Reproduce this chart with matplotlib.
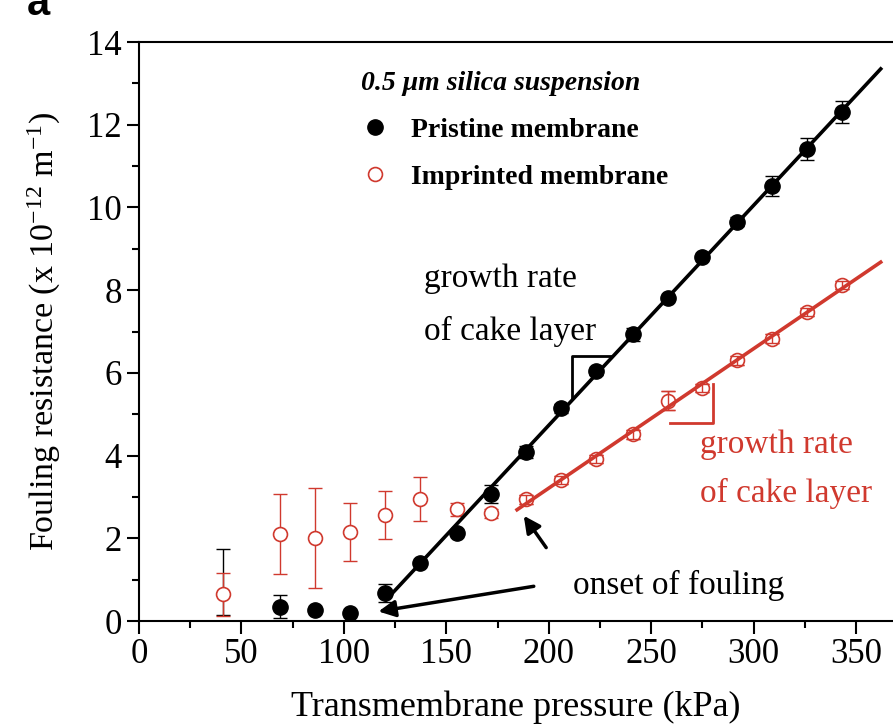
import numpy as np
import matplotlib.pyplot as plt
from matplotlib.lines import Line2D

plt.rcParams['font.family'] = ['Liberation Serif', 'DejaVu Serif']
plt.rcParams['mathtext.fontset'] = 'custom'
plt.rcParams['mathtext.rm'] = 'Liberation Serif'
plt.rcParams['mathtext.it'] = 'Liberation Serif:italic'

RED = '#d0392e'

# data
pressure = np.array([41, 69, 86, 103, 120, 137, 155, 172, 189, 206, 223, 241, 258, 275, 292, 309, 326, 343])
pristine = np.array([0.65, 0.35, 0.27, 0.20, 0.67, 1.41, 2.14, 3.08, 4.08, 5.14, 6.04, 6.93, 7.80, 8.79, 9.66, 10.52, 11.42, 12.31])
pristine_err_lo = np.array([0.5, 0.27, 0.05, 0.03, 0.22, 0.05, 0.05, 0.22, 0.15, 0.10, 0.08, 0.15, 0.05, 0.05, 0.10, 0.24, 0.27, 0.26])
pristine_err_hi = np.array([1.08, 0.27, 0.05, 0.03, 0.22, 0.05, 0.05, 0.22, 0.15, 0.10, 0.08, 0.15, 0.05, 0.05, 0.10, 0.24, 0.27, 0.26])
imprinted = np.array([0.65, 2.10, 2.01, 2.15, 2.56, 2.96, 2.70, 2.60, 2.94, 3.41, 3.91, 4.51, 5.33, 5.64, 6.30, 6.83, 7.47, 8.12])
imprinted_err = np.array([0.52, 0.96, 1.20, 0.70, 0.58, 0.53, 0.15, 0.10, 0.10, 0.10, 0.10, 0.12, 0.22, 0.10, 0.10, 0.10, 0.10, 0.10])

# linear regions (cake filtration) and range of the fitted lines
pristine_fit_from, pristine_line = 120, (120.5, 362)
imprinted_fit_from, imprinted_line = 189, (184.5, 362)

fig = plt.figure(figsize=(8.93, 7.27), dpi=100)
ax = fig.add_axes([0.1557, 0.1458, 0.8443, 0.7964])

# imprinted membrane: open circles
ax.errorbar(pressure, imprinted, yerr=imprinted_err, fmt='none', ecolor=RED,
            elinewidth=1, capsize=5, capthick=1, zorder=2)
ax.plot(pressure, imprinted, 'o', ms=10, mfc='white', mec=RED, mew=1.2, zorder=3)
small = pressure >= imprinted_fit_from
ax.errorbar(pressure[small], imprinted[small], yerr=imprinted_err[small], fmt='none',
            ecolor=RED, elinewidth=1, capsize=5, capthick=1, zorder=4)

# pristine membrane: filled circles (the first one sits hidden behind an open circle)
ax.errorbar(pressure, pristine, yerr=[pristine_err_lo, pristine_err_hi], fmt='none',
            ecolor='black', elinewidth=1, capsize=5, capthick=1, zorder=1)
shown = pressure > 50
ax.plot(pressure[shown], pristine[shown], 'o', ms=11, color='black', zorder=6)

# fitted lines
for sel_from, rng, y, c in [(pristine_fit_from, pristine_line, pristine, 'black'),
                            (imprinted_fit_from, imprinted_line, imprinted, RED)]:
    m = pressure >= sel_from
    k, b = np.polyfit(pressure[m], y[m], 1)
    xx = np.array(rng)
    ax.plot(xx, k * xx + b, color=c, lw=2.6, zorder=5)

# slope triangles
ax.plot([211.1, 211.1, 230.6], [5.38, 6.41, 6.41], color='black', lw=2, zorder=5)
ax.plot([259, 280.1, 280.1], [4.79, 4.79, 5.73], color=RED, lw=2, zorder=5)

# annotations
ax.text(139, 8.08, 'growth rate', fontsize=24, va='baseline', ha='left')
ax.text(139, 6.79, 'of cake layer', fontsize=24, va='baseline', ha='left')
ax.text(274, 4.06, 'growth rate', fontsize=24, va='baseline', ha='left', color=RED)
ax.text(274, 2.88, 'of cake layer', fontsize=24, va='baseline', ha='left', color=RED)
ax.text(212, 0.85, 'onset of fouling', fontsize=24, va='center', ha='left')
ax.annotate('', xy=(115.5, 0.22), xytext=(194, 0.85),
            arrowprops=dict(arrowstyle='-|>', color='black', lw=2.5, mutation_scale=25))
ax.annotate('', xy=(187, 2.6), xytext=(199.5, 1.72),
            arrowprops=dict(arrowstyle='-|>', color='black', lw=2.5, mutation_scale=25))

# legend
handles = [Line2D([], [], ls='none', marker='o', ms=11, color='black'),
           Line2D([], [], ls='none', marker='o', ms=10, mfc='white', mec=RED, mew=1.2)]
leg = ax.legend(handles, ['Pristine membrane', 'Imprinted membrane'],
                title='0.5 \u03bcm silica suspension', loc='upper left',
                bbox_to_anchor=(0.28, 0.969), frameon=False,
                prop={'weight': 'bold', 'size': 20},
                title_fontproperties={'weight': 'bold', 'style': 'italic', 'size': 20},
                alignment='left', handletextpad=0.8, labelspacing=0.77,
                handlelength=1.0, borderaxespad=0)

# axes
ax.set_xlim(0, 368)
ax.set_ylim(0, 14)
ax.set_xticks(np.arange(0, 351, 50))
ax.set_xticks(np.arange(25, 351, 50), minor=True)
ax.set_yticks(np.arange(0, 15, 2))
ax.set_yticks(np.arange(1, 14, 2), minor=True)
ax.tick_params(which='major', length=9, width=1.5, labelsize=25, direction='out')
ax.tick_params(which='minor', length=5, width=1.5, direction='out')
ax.tick_params(top=False, right=False)
for s in ['left', 'bottom', 'top']:
    ax.spines[s].set_linewidth(1.5)
ax.spines['right'].set_visible(False)

ax.set_xlabel('Transmembrane pressure (kPa)', fontsize=26, labelpad=14)
ax.set_ylabel('Fouling resistance (x 10$^{-12}$ m$^{-1}$)', fontsize=24.5, labelpad=17)

fig.text(0.03, 0.979, 'a', fontsize=30, fontweight='bold', family='Liberation Sans',
         ha='left', va='baseline')

fig.savefig('out.png', dpi=100)
